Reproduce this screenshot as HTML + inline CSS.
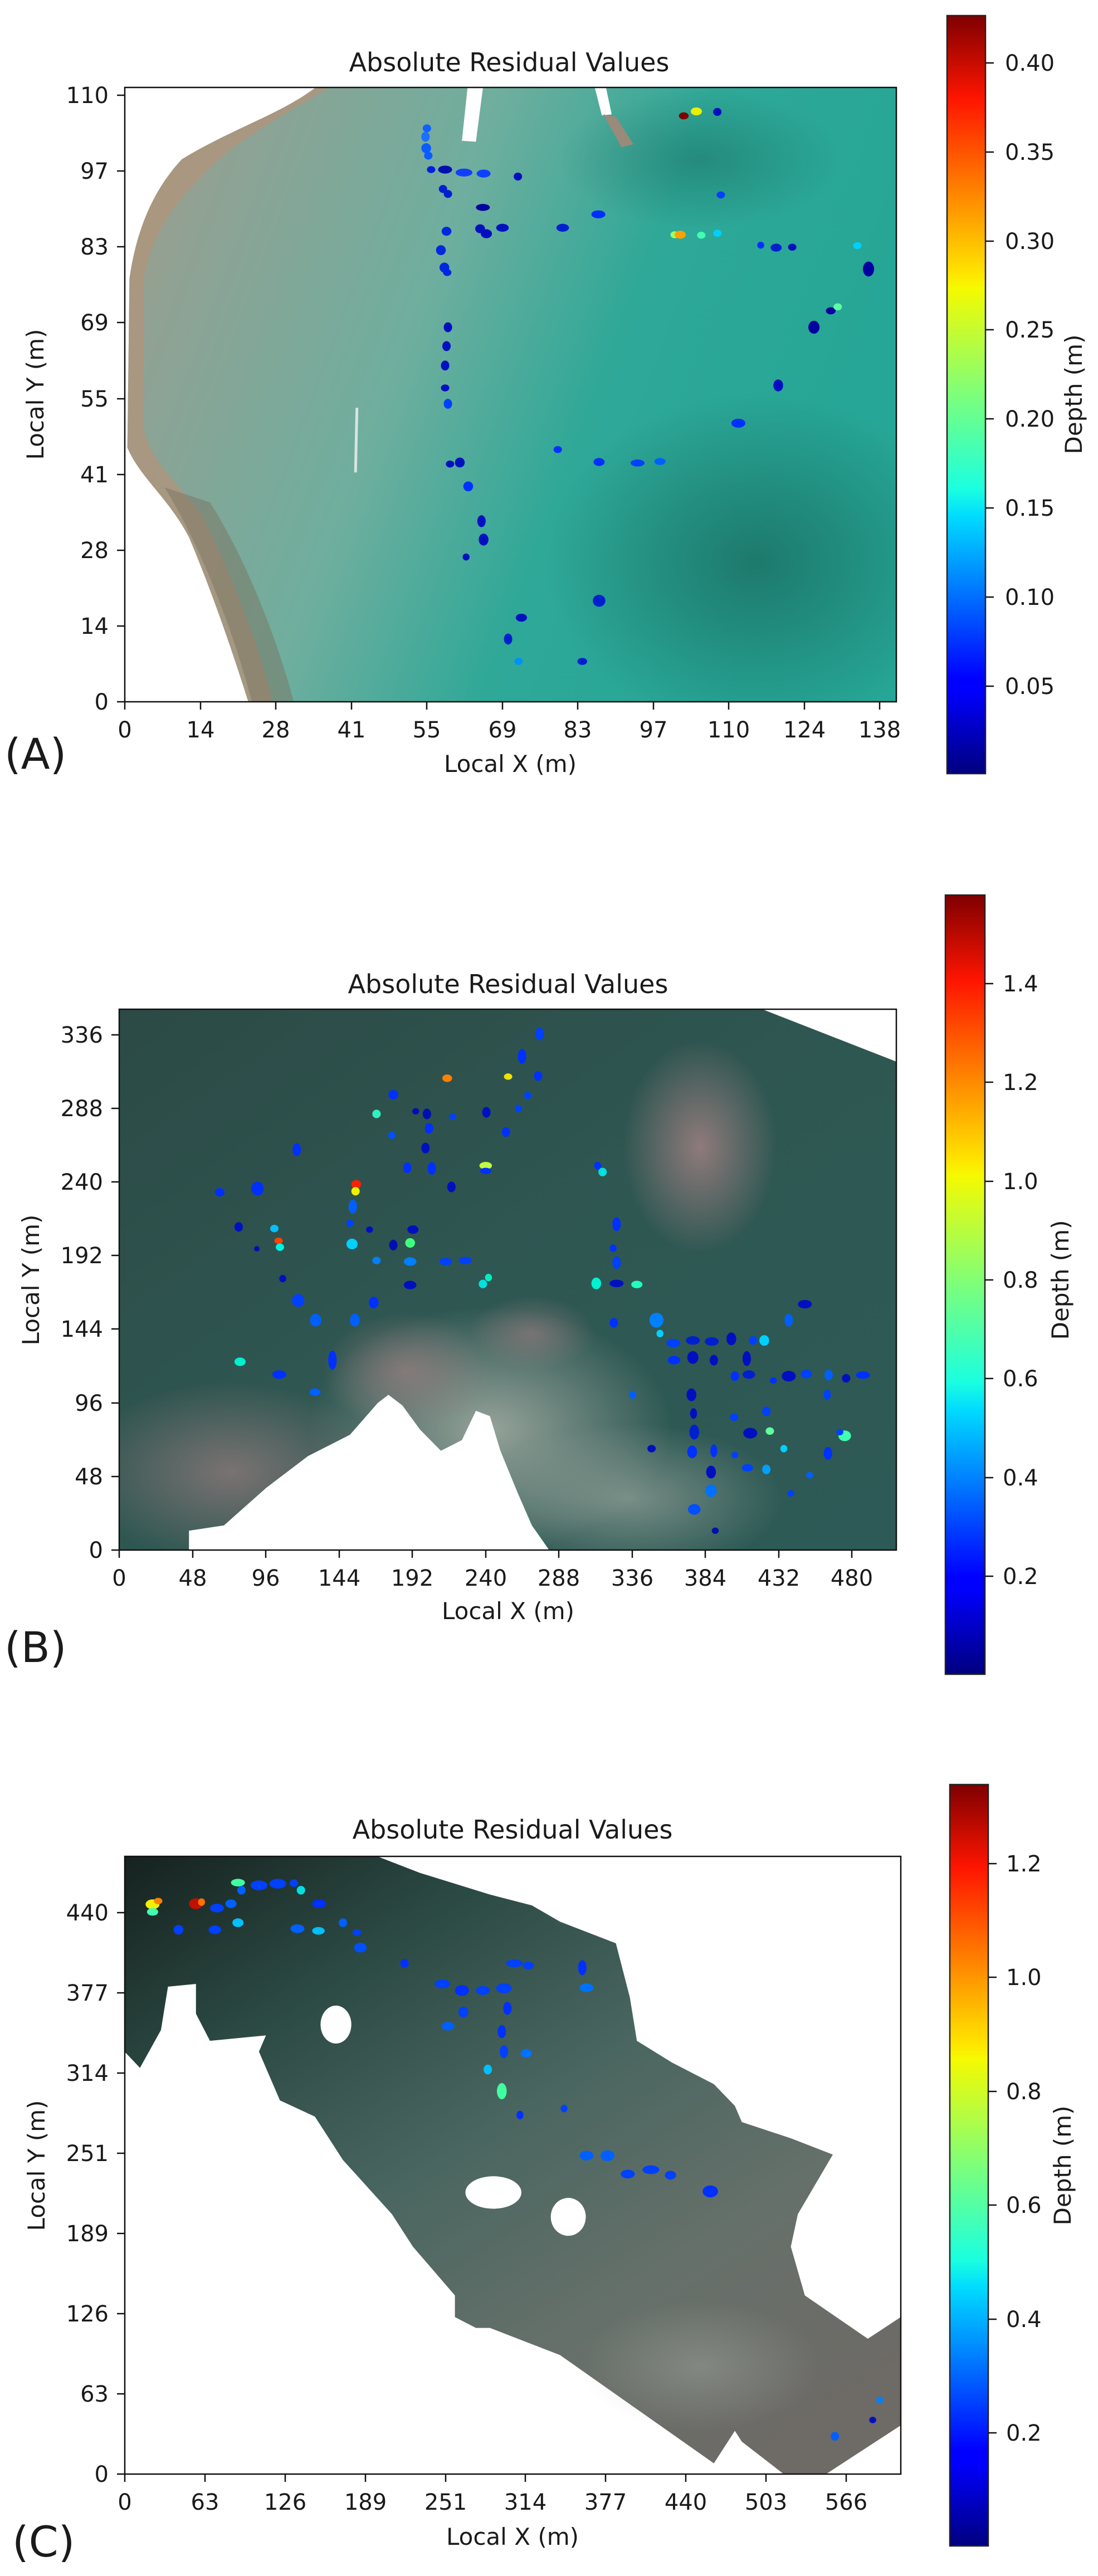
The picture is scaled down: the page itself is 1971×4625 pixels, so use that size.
<!DOCTYPE html>
<html><head><meta charset="utf-8"><style>
html,body{margin:0;padding:0;background:#fff;}
svg{display:block;}
text{font-family:"DejaVu Sans","Liberation Sans",sans-serif;fill:#1a1a1a;}
</style></head><body>
<svg width="1971" height="4625" viewBox="0 0 1971 4625" xmlns="http://www.w3.org/2000/svg">
<defs>
<linearGradient id="jet" x1="0" y1="1" x2="0" y2="0">
<stop offset="0" stop-color="#00007f"/><stop offset="0.11" stop-color="#0000ff"/><stop offset="0.125" stop-color="#0000ff"/>
<stop offset="0.34" stop-color="#00dcff"/><stop offset="0.375" stop-color="#1affe0"/><stop offset="0.5" stop-color="#7dff7a"/>
<stop offset="0.64" stop-color="#f5fa00"/><stop offset="0.66" stop-color="#ffe400"/><stop offset="0.89" stop-color="#ff1500"/>
<stop offset="1" stop-color="#7f0000"/></linearGradient>
<linearGradient id="aw" x1="0" y1="0" x2="1" y2="0.3">
<stop offset="0" stop-color="#a49c88"/><stop offset="0.15" stop-color="#8fa294"/><stop offset="0.45" stop-color="#6fae9e"/><stop offset="0.7" stop-color="#2fa898"/><stop offset="1" stop-color="#26a696"/></linearGradient>
<linearGradient id="bw" x1="0" y1="0" x2="1" y2="1">
<stop offset="0" stop-color="#2c4a46"/><stop offset="0.5" stop-color="#2f5752"/><stop offset="1" stop-color="#2d5a56"/></linearGradient>
<linearGradient id="cw" x1="0" y1="0" x2="0.8" y2="1">
<stop offset="0" stop-color="#16221f"/><stop offset="0.25" stop-color="#2c4a44"/><stop offset="0.5" stop-color="#4a6660"/><stop offset="0.75" stop-color="#66706a"/><stop offset="1" stop-color="#6e6a66"/></linearGradient>
<radialGradient id="bs" cx="0.5" cy="0.5" r="0.5"><stop offset="0" stop-color="#a8b0a6"/><stop offset="1" stop-color="#a8b0a6" stop-opacity="0"/></radialGradient>
<radialGradient id="pk" cx="0.5" cy="0.5" r="0.5"><stop offset="0" stop-color="#9a7e80"/><stop offset="1" stop-color="#9a7e80" stop-opacity="0"/></radialGradient>
<radialGradient id="dk" cx="0.5" cy="0.5" r="0.5"><stop offset="0" stop-color="#1a6e62"/><stop offset="1" stop-color="#1a6e62" stop-opacity="0"/></radialGradient>
<clipPath id="ca"><rect x="178" y="177" width="1102" height="1235"/></clipPath>
<clipPath id="cb"><rect x="170" y="222" width="1111" height="1015"/></clipPath>
<clipPath id="cc"><rect x="178" y="240" width="1109" height="1140"/></clipPath>
</defs>

<!-- ===== PANEL A ===== -->
<g transform="scale(1.2563,0.8929)">
<g clip-path="url(#ca)">
<rect x="178" y="177" width="1102" height="1235" fill="url(#aw)"/>
<ellipse cx="1080" cy="1130" rx="300" ry="340" fill="url(#dk)" opacity="0.8"/>
<ellipse cx="1000" cy="320" rx="200" ry="140" fill="url(#dk)" opacity="0.5"/>
<path d="M178 177 L450 177 C400 230 330 260 260 320 C220 380 195 460 185 560 L182 900 C200 960 240 1000 270 1080 C300 1180 330 1300 355 1412 L178 1412 Z" fill="#fff"/>
<path d="M450 177 C400 230 330 260 260 320 C220 380 195 460 185 560 L182 900 C200 960 240 1000 270 1080 C300 1180 330 1300 355 1412 L390 1412 C370 1300 330 1150 290 1040 C255 970 215 930 205 860 L205 560 C220 440 280 360 330 300 C380 250 430 210 470 177 Z" fill="#ad957e" opacity="0.85"/>
<path d="M235 980 C280 1080 330 1250 360 1412 L420 1412 C395 1280 350 1120 300 1010 Z" fill="#7a7462" opacity="0.5"/>
<polygon points="668,177 690,177 680,285 660,283" fill="#fff"/>
<polygon points="850,177 866,177 874,230 860,232" fill="#fff"/>
<polygon points="862,230 880,235 905,290 888,296" fill="#9a8a7a"/>
<line x1="510" y1="820" x2="508" y2="950" stroke="#d8e4e0" stroke-width="4"/>
</g>
<g>
<ellipse cx="977" cy="233" rx="7" ry="7" fill="#800000"/><ellipse cx="995" cy="224" rx="8" ry="8" fill="#e8f000"/><ellipse cx="1025" cy="225" rx="6" ry="8" fill="#0010c0"/>
<ellipse cx="610" cy="258" rx="6" ry="8" fill="#1060ff"/><ellipse cx="608" cy="275" rx="6" ry="10" fill="#1a70ff"/><ellipse cx="609" cy="298" rx="7" ry="10" fill="#0a5cff"/><ellipse cx="612" cy="313" rx="6" ry="8" fill="#0a5cff"/>
<ellipse cx="616" cy="341" rx="6" ry="7" fill="#0020e0"/><ellipse cx="636" cy="341" rx="10" ry="8" fill="#0010b0"/><ellipse cx="663" cy="347" rx="12" ry="8" fill="#1040ff"/><ellipse cx="691" cy="349" rx="10" ry="8" fill="#1040ff"/><ellipse cx="740" cy="355" rx="6" ry="8" fill="#0010c0"/>
<ellipse cx="633" cy="380" rx="6" ry="8" fill="#0020d0"/><ellipse cx="640" cy="390" rx="6" ry="8" fill="#0020d0"/>
<ellipse cx="690" cy="417" rx="10" ry="7" fill="#0000a0"/>
<ellipse cx="686" cy="460" rx="7" ry="9" fill="#0010c0"/><ellipse cx="695" cy="470" rx="8" ry="9" fill="#0010c0"/><ellipse cx="718" cy="458" rx="9" ry="8" fill="#0010c0"/>
<ellipse cx="638" cy="465" rx="7" ry="9" fill="#0028e0"/><ellipse cx="630" cy="503" rx="7" ry="10" fill="#0028e0"/><ellipse cx="635" cy="538" rx="7" ry="10" fill="#0028e0"/><ellipse cx="639" cy="548" rx="6" ry="7" fill="#0028e0"/>
<ellipse cx="804" cy="458" rx="9" ry="8" fill="#0020d0"/><ellipse cx="855" cy="431" rx="10" ry="8" fill="#0030ff"/><ellipse cx="1030" cy="392" rx="6" ry="7" fill="#0040ff"/>
<ellipse cx="964" cy="472" rx="6" ry="7" fill="#a0ff60"/><ellipse cx="972" cy="472" rx="8" ry="8" fill="#ffa000"/><ellipse cx="1002" cy="473" rx="6" ry="7" fill="#40ffb0"/><ellipse cx="1025" cy="469" rx="6" ry="7" fill="#00d0ff"/>
<ellipse cx="1087" cy="493" rx="5" ry="7" fill="#0030ff"/><ellipse cx="1109" cy="498" rx="8" ry="8" fill="#0020d0"/><ellipse cx="1132" cy="497" rx="6" ry="7" fill="#0010c0"/><ellipse cx="1225" cy="494" rx="6" ry="7" fill="#00d0ff"/><ellipse cx="1241" cy="541" rx="8" ry="15" fill="#0000a0"/>
<ellipse cx="1187" cy="625" rx="7" ry="7" fill="#0000a0"/><ellipse cx="1197" cy="617" rx="6" ry="7" fill="#60ffa0"/><ellipse cx="1163" cy="658" rx="8" ry="13" fill="#0000a0"/>
<ellipse cx="640" cy="658" rx="6" ry="10" fill="#0010c0"/><ellipse cx="638" cy="696" rx="6" ry="10" fill="#0010c0"/><ellipse cx="636" cy="735" rx="6" ry="10" fill="#0010c0"/><ellipse cx="636" cy="780" rx="6" ry="7" fill="#0010c0"/><ellipse cx="640" cy="812" rx="6" ry="10" fill="#0040ff"/>
<ellipse cx="1112" cy="775" rx="7" ry="12" fill="#0010c0"/><ellipse cx="1055" cy="851" rx="10" ry="9" fill="#0030ff"/>
<ellipse cx="797" cy="904" rx="6" ry="7" fill="#0030ff"/><ellipse cx="643" cy="933" rx="6" ry="7" fill="#0010c0"/><ellipse cx="657" cy="930" rx="7" ry="10" fill="#0010c0"/><ellipse cx="856" cy="929" rx="8" ry="8" fill="#0030ff"/><ellipse cx="911" cy="931" rx="10" ry="7" fill="#0040ff"/><ellipse cx="943" cy="928" rx="8" ry="7" fill="#0060ff"/>
<ellipse cx="669" cy="978" rx="7" ry="10" fill="#0030ff"/><ellipse cx="688" cy="1048" rx="6" ry="12" fill="#0010c0"/><ellipse cx="691" cy="1085" rx="7" ry="12" fill="#0010c0"/><ellipse cx="666" cy="1120" rx="5" ry="7" fill="#0010c0"/>
<ellipse cx="856" cy="1208" rx="9" ry="12" fill="#0020d0"/><ellipse cx="745" cy="1242" rx="8" ry="8" fill="#0010c0"/><ellipse cx="726" cy="1285" rx="6" ry="11" fill="#0020d0"/><ellipse cx="741" cy="1330" rx="6" ry="7" fill="#0090ff"/><ellipse cx="832" cy="1330" rx="7" ry="7" fill="#0020d0"/>
</g>
</g>
<rect x="224" y="157" width="1385" height="1103" fill="none" stroke="#111" stroke-width="2.5"/>
<g stroke="#111" stroke-width="2.5">
<line x1="210" y1="1260" x2="224" y2="1260"/><line x1="210" y1="1124" x2="224" y2="1124"/><line x1="210" y1="988" x2="224" y2="988"/><line x1="210" y1="852" x2="224" y2="852"/><line x1="210" y1="716" x2="224" y2="716"/><line x1="210" y1="579" x2="224" y2="579"/><line x1="210" y1="443" x2="224" y2="443"/><line x1="210" y1="307" x2="224" y2="307"/><line x1="210" y1="171" x2="224" y2="171"/>
<line x1="224" y1="1260" x2="224" y2="1274"/><line x1="360" y1="1260" x2="360" y2="1274"/><line x1="495" y1="1260" x2="495" y2="1274"/><line x1="631" y1="1260" x2="631" y2="1274"/><line x1="766" y1="1260" x2="766" y2="1274"/><line x1="902" y1="1260" x2="902" y2="1274"/><line x1="1037" y1="1260" x2="1037" y2="1274"/><line x1="1173" y1="1260" x2="1173" y2="1274"/><line x1="1308" y1="1260" x2="1308" y2="1274"/><line x1="1444" y1="1260" x2="1444" y2="1274"/><line x1="1579" y1="1260" x2="1579" y2="1274"/>
</g>
<g font-size="40" text-anchor="end">
<text x="195" y="1274">0</text><text x="195" y="1138">14</text><text x="195" y="1002">28</text><text x="195" y="866">41</text><text x="195" y="730">55</text><text x="195" y="593">69</text><text x="195" y="457">83</text><text x="195" y="321">97</text><text x="195" y="185">110</text>
</g>
<g font-size="40" text-anchor="middle">
<text x="224" y="1324">0</text><text x="360" y="1324">14</text><text x="495" y="1324">28</text><text x="631" y="1324">41</text><text x="766" y="1324">55</text><text x="902" y="1324">69</text><text x="1037" y="1324">83</text><text x="1173" y="1324">97</text><text x="1308" y="1324">110</text><text x="1444" y="1324">124</text><text x="1579" y="1324">138</text>
</g>
<text x="916" y="1386" font-size="42" text-anchor="middle">Local X (m)</text>
<text transform="translate(78,708) rotate(-90)" font-size="42" text-anchor="middle">Local Y (m)</text>
<text x="914" y="128" font-size="46" text-anchor="middle">Absolute Residual Values</text>
<text x="8" y="1380" font-size="76">(A)</text>
<rect x="1700" y="28" width="69" height="1361" fill="url(#jet)" stroke="#222" stroke-width="2.5"/>
<g stroke="#111" stroke-width="2.5"><line x1="1769" y1="113" x2="1784" y2="113"/><line x1="1769" y1="273" x2="1784" y2="273"/><line x1="1769" y1="433" x2="1784" y2="433"/><line x1="1769" y1="592" x2="1784" y2="592"/><line x1="1769" y1="752" x2="1784" y2="752"/><line x1="1769" y1="912" x2="1784" y2="912"/><line x1="1769" y1="1072" x2="1784" y2="1072"/><line x1="1769" y1="1232" x2="1784" y2="1232"/></g>
<g font-size="40"><text x="1804" y="127">0.40</text><text x="1804" y="287">0.35</text><text x="1804" y="447">0.30</text><text x="1804" y="606">0.25</text><text x="1804" y="766">0.20</text><text x="1804" y="926">0.15</text><text x="1804" y="1086">0.10</text><text x="1804" y="1246">0.05</text></g>
<text transform="translate(1942,708) rotate(-90)" font-size="42" text-anchor="middle">Depth (m)</text>

<!-- ===== PANEL B ===== -->
<g transform="translate(0,1600) scale(1.2563,0.9569)">
<g clip-path="url(#cb)">
<rect x="170" y="222" width="1111" height="1015" fill="url(#bw)"/>
<ellipse cx="1000" cy="480" rx="110" ry="200" fill="url(#pk)" opacity="0.9"/>
<ellipse cx="700" cy="1010" rx="260" ry="230" fill="url(#bs)" opacity="0.85"/>
<ellipse cx="900" cy="1140" rx="220" ry="140" fill="url(#bs)" opacity="0.6"/>
<ellipse cx="330" cy="1090" rx="220" ry="170" fill="url(#pk)" opacity="0.7"/>
<ellipse cx="580" cy="900" rx="120" ry="110" fill="url(#pk)" opacity="0.7"/>
<ellipse cx="760" cy="830" rx="90" ry="70" fill="url(#pk)" opacity="0.6"/>
<polygon points="1090,222 1281,222 1281,320" fill="#fff"/>
<polygon points="270,1237 270,1200 320,1190 380,1120 440,1060 500,1020 540,960 555,945 575,965 600,1010 630,1050 660,1030 680,975 700,985 715,1050 740,1130 760,1190 785,1237" fill="#fff"/>
</g>
<g>
<ellipse cx="771" cy="268" rx="6" ry="12" fill="#0040ff"/><ellipse cx="746" cy="310" rx="6" ry="14" fill="#0030ff"/><ellipse cx="769" cy="347" rx="6" ry="9" fill="#0030ff"/><ellipse cx="639" cy="351" rx="7" ry="7" fill="#ff8000"/><ellipse cx="726" cy="348" rx="6" ry="6" fill="#f0e000"/><ellipse cx="754" cy="383" rx="5" ry="7" fill="#0040ff"/><ellipse cx="562" cy="382" rx="7" ry="9" fill="#0030ff"/><ellipse cx="538" cy="418" rx="6" ry="8" fill="#30f0c0"/><ellipse cx="610" cy="418" rx="6" ry="10" fill="#0010b0"/><ellipse cx="594" cy="413" rx="5" ry="6" fill="#0010b0"/><ellipse cx="647" cy="423" rx="5" ry="6" fill="#0040ff"/><ellipse cx="695" cy="415" rx="6" ry="10" fill="#0010c0"/><ellipse cx="741" cy="408" rx="5" ry="7" fill="#0040ff"/><ellipse cx="613" cy="445" rx="6" ry="10" fill="#0030ff"/><ellipse cx="560" cy="458" rx="5" ry="7" fill="#0050ff"/><ellipse cx="723" cy="452" rx="6" ry="9" fill="#0030ff"/><ellipse cx="608" cy="482" rx="6" ry="10" fill="#0010c0"/><ellipse cx="424" cy="485" rx="6" ry="12" fill="#0030ff"/><ellipse cx="582" cy="519" rx="6" ry="10" fill="#0030ff"/><ellipse cx="617" cy="520" rx="6" ry="12" fill="#0030ff"/><ellipse cx="694" cy="515" rx="9" ry="7" fill="#c0ff40"/><ellipse cx="694" cy="525" rx="8" ry="6" fill="#0030ff"/><ellipse cx="645" cy="555" rx="6" ry="10" fill="#0010c0"/><ellipse cx="509" cy="550" rx="7" ry="8" fill="#ff2000"/><ellipse cx="508" cy="563" rx="6" ry="8" fill="#f0f000"/><ellipse cx="314" cy="565" rx="7" ry="8" fill="#0030ff"/><ellipse cx="368" cy="558" rx="9" ry="13" fill="#0030ff"/><ellipse cx="504" cy="592" rx="6" ry="13" fill="#0060ff"/><ellipse cx="500" cy="623" rx="5" ry="7" fill="#0040ff"/><ellipse cx="528" cy="635" rx="5" ry="6" fill="#0010c0"/><ellipse cx="341" cy="630" rx="6" ry="9" fill="#0010c0"/><ellipse cx="392" cy="633" rx="6" ry="7" fill="#00c0ff"/><ellipse cx="398" cy="656" rx="6" ry="6" fill="#ff4000"/><ellipse cx="400" cy="668" rx="6" ry="7" fill="#00f0e0"/><ellipse cx="367" cy="671" rx="4" ry="5" fill="#0010b0"/><ellipse cx="503" cy="662" rx="8" ry="10" fill="#00d0ff"/><ellipse cx="562" cy="664" rx="6" ry="10" fill="#0010b0"/><ellipse cx="586" cy="660" rx="7" ry="9" fill="#40ff80"/><ellipse cx="590" cy="635" rx="8" ry="8" fill="#0010c0"/><ellipse cx="538" cy="693" rx="6" ry="7" fill="#0080ff"/><ellipse cx="586" cy="695" rx="9" ry="8" fill="#0080ff"/><ellipse cx="637" cy="695" rx="9" ry="7" fill="#0040ff"/><ellipse cx="665" cy="693" rx="9" ry="7" fill="#0040ff"/><ellipse cx="404" cy="727" rx="5" ry="7" fill="#0010c0"/><ellipse cx="586" cy="739" rx="9" ry="8" fill="#0010c0"/><ellipse cx="690" cy="737" rx="6" ry="8" fill="#00e0e0"/><ellipse cx="698" cy="725" rx="5" ry="7" fill="#00f0c0"/><ellipse cx="854" cy="515" rx="5" ry="7" fill="#0030ff"/><ellipse cx="861" cy="527" rx="6" ry="8" fill="#00e0e0"/><ellipse cx="881" cy="625" rx="6" ry="13" fill="#0030ff"/><ellipse cx="876" cy="670" rx="5" ry="7" fill="#0030ff"/><ellipse cx="881" cy="697" rx="6" ry="12" fill="#0040ff"/><ellipse cx="881" cy="736" rx="10" ry="7" fill="#0010c0"/><ellipse cx="910" cy="738" rx="8" ry="7" fill="#20ffc0"/><ellipse cx="852" cy="736" rx="7" ry="11" fill="#00f0d0"/><ellipse cx="877" cy="810" rx="6" ry="9" fill="#0030ff"/><ellipse cx="426" cy="768" rx="9" ry="12" fill="#0040ff"/><ellipse cx="534" cy="772" rx="7" ry="11" fill="#0030ff"/><ellipse cx="451" cy="805" rx="8" ry="12" fill="#0060ff"/><ellipse cx="507" cy="805" rx="7" ry="12" fill="#0060ff"/><ellipse cx="938" cy="805" rx="10" ry="14" fill="#0080ff"/><ellipse cx="943" cy="830" rx="5" ry="7" fill="#00d0ff"/><ellipse cx="343" cy="883" rx="8" ry="8" fill="#00f0d0"/><ellipse cx="475" cy="880" rx="6" ry="18" fill="#0030ff"/><ellipse cx="399" cy="907" rx="10" ry="8" fill="#0030ff"/><ellipse cx="450" cy="940" rx="8" ry="7" fill="#0060ff"/><ellipse cx="962" cy="848" rx="10" ry="8" fill="#0040ff"/><ellipse cx="990" cy="843" rx="10" ry="8" fill="#0020d0"/><ellipse cx="1017" cy="845" rx="10" ry="8" fill="#0020d0"/><ellipse cx="1045" cy="840" rx="7" ry="12" fill="#0010c0"/><ellipse cx="1092" cy="843" rx="7" ry="10" fill="#00d0ff"/><ellipse cx="1076" cy="843" rx="6" ry="8" fill="#0040ff"/><ellipse cx="963" cy="880" rx="9" ry="8" fill="#0030ff"/><ellipse cx="990" cy="875" rx="8" ry="12" fill="#0010c0"/><ellipse cx="1020" cy="880" rx="6" ry="10" fill="#0010c0"/><ellipse cx="1067" cy="877" rx="6" ry="14" fill="#0010c0"/><ellipse cx="1050" cy="910" rx="6" ry="9" fill="#0030ff"/><ellipse cx="1070" cy="907" rx="9" ry="8" fill="#0020d0"/><ellipse cx="1105" cy="918" rx="5" ry="6" fill="#0030ff"/><ellipse cx="1127" cy="910" rx="10" ry="10" fill="#0010c0"/><ellipse cx="1152" cy="906" rx="8" ry="8" fill="#0040ff"/><ellipse cx="1184" cy="908" rx="6" ry="10" fill="#0060ff"/><ellipse cx="1209" cy="914" rx="6" ry="8" fill="#0010c0"/><ellipse cx="1233" cy="908" rx="10" ry="7" fill="#0030ff"/><ellipse cx="1150" cy="775" rx="10" ry="8" fill="#0010c0"/><ellipse cx="1127" cy="805" rx="6" ry="12" fill="#0060ff"/><ellipse cx="1182" cy="945" rx="5" ry="10" fill="#0040ff"/><ellipse cx="904" cy="945" rx="5" ry="8" fill="#0060ff"/><ellipse cx="988" cy="945" rx="7" ry="12" fill="#0010c0"/><ellipse cx="991" cy="980" rx="5" ry="10" fill="#0010c0"/><ellipse cx="992" cy="1015" rx="7" ry="14" fill="#0020d0"/><ellipse cx="989" cy="1052" rx="7" ry="12" fill="#0030ff"/><ellipse cx="1020" cy="1050" rx="5" ry="12" fill="#0030ff"/><ellipse cx="1049" cy="987" rx="6" ry="7" fill="#0040ff"/><ellipse cx="1072" cy="1017" rx="10" ry="10" fill="#0010c0"/><ellipse cx="1095" cy="976" rx="6" ry="9" fill="#0040ff"/><ellipse cx="1100" cy="1013" rx="6" ry="7" fill="#60ffa0"/><ellipse cx="1120" cy="1046" rx="5" ry="7" fill="#00d0ff"/><ellipse cx="1050" cy="1058" rx="5" ry="6" fill="#0040ff"/><ellipse cx="1068" cy="1082" rx="8" ry="7" fill="#0040ff"/><ellipse cx="1095" cy="1085" rx="6" ry="9" fill="#00a0ff"/><ellipse cx="1016" cy="1090" rx="7" ry="12" fill="#0010c0"/><ellipse cx="1016" cy="1125" rx="8" ry="12" fill="#0070ff"/><ellipse cx="992" cy="1160" rx="9" ry="10" fill="#0050ff"/><ellipse cx="1022" cy="1200" rx="5" ry="6" fill="#0010b0"/><ellipse cx="1130" cy="1130" rx="5" ry="6" fill="#0040ff"/><ellipse cx="1157" cy="1096" rx="5" ry="6" fill="#0060ff"/><ellipse cx="1183" cy="1055" rx="6" ry="12" fill="#0030ff"/><ellipse cx="1207" cy="1022" rx="9" ry="10" fill="#40ffb0"/><ellipse cx="1200" cy="1015" rx="5" ry="6" fill="#0040ff"/><ellipse cx="931" cy="1046" rx="6" ry="7" fill="#0010c0"/>
</g>
</g>
<rect x="214" y="1812" width="1395" height="971" fill="none" stroke="#111" stroke-width="2.5"/>
<g stroke="#111" stroke-width="2.5">
<line x1="200" y1="2783" x2="214" y2="2783"/><line x1="200" y1="2651" x2="214" y2="2651"/><line x1="200" y1="2519" x2="214" y2="2519"/><line x1="200" y1="2386" x2="214" y2="2386"/><line x1="200" y1="2254" x2="214" y2="2254"/><line x1="200" y1="2122" x2="214" y2="2122"/><line x1="200" y1="1990" x2="214" y2="1990"/><line x1="200" y1="1858" x2="214" y2="1858"/>
<line x1="214" y1="2783" x2="214" y2="2797"/><line x1="346" y1="2783" x2="346" y2="2797"/><line x1="477" y1="2783" x2="477" y2="2797"/><line x1="609" y1="2783" x2="609" y2="2797"/><line x1="740" y1="2783" x2="740" y2="2797"/><line x1="872" y1="2783" x2="872" y2="2797"/><line x1="1003" y1="2783" x2="1003" y2="2797"/><line x1="1135" y1="2783" x2="1135" y2="2797"/><line x1="1266" y1="2783" x2="1266" y2="2797"/><line x1="1398" y1="2783" x2="1398" y2="2797"/><line x1="1529" y1="2783" x2="1529" y2="2797"/>
</g>
<g font-size="40" text-anchor="end">
<text x="185" y="2797">0</text><text x="185" y="2665">48</text><text x="185" y="2533">96</text><text x="185" y="2400">144</text><text x="185" y="2268">192</text><text x="185" y="2136">240</text><text x="185" y="2004">288</text><text x="185" y="1872">336</text>
</g>
<g font-size="40" text-anchor="middle">
<text x="214" y="2847">0</text><text x="346" y="2847">48</text><text x="477" y="2847">96</text><text x="609" y="2847">144</text><text x="740" y="2847">192</text><text x="872" y="2847">240</text><text x="1003" y="2847">288</text><text x="1135" y="2847">336</text><text x="1266" y="2847">384</text><text x="1398" y="2847">432</text><text x="1529" y="2847">480</text>
</g>
<text x="912" y="2907" font-size="42" text-anchor="middle">Local X (m)</text>
<text transform="translate(70,2298) rotate(-90)" font-size="42" text-anchor="middle">Local Y (m)</text>
<text x="912" y="1783" font-size="46" text-anchor="middle">Absolute Residual Values</text>
<text x="8" y="2984" font-size="76">(B)</text>
<rect x="1697" y="1607" width="71" height="1399" fill="url(#jet)" stroke="#222" stroke-width="2.5"/>
<g stroke="#111" stroke-width="2.5"><line x1="1768" y1="1766" x2="1783" y2="1766"/><line x1="1768" y1="1943" x2="1783" y2="1943"/><line x1="1768" y1="2121" x2="1783" y2="2121"/><line x1="1768" y1="2298" x2="1783" y2="2298"/><line x1="1768" y1="2475" x2="1783" y2="2475"/><line x1="1768" y1="2653" x2="1783" y2="2653"/><line x1="1768" y1="2830" x2="1783" y2="2830"/></g>
<g font-size="40"><text x="1800" y="1780">1.4</text><text x="1800" y="1957">1.2</text><text x="1800" y="2135">1.0</text><text x="1800" y="2312">0.8</text><text x="1800" y="2489">0.6</text><text x="1800" y="2667">0.4</text><text x="1800" y="2844">0.2</text></g>
<text transform="translate(1918,2298) rotate(-90)" font-size="42" text-anchor="middle">Depth (m)</text>

<!-- ===== PANEL C ===== -->
<g transform="translate(0,3100) scale(1.2563,0.9726)">
<g clip-path="url(#cc)">
<polygon points="178,240 540,240 600,270 700,310 760,330 800,360 880,400 900,500 910,580 960,620 1020,660 1050,700 1060,730 1130,760 1190,790 1140,900 1130,960 1150,1050 1240,1130 1287,1090 1287,1290 1180,1380 1120,1380 1060,1320 1050,1300 1020,1360 800,1160 700,1110 680,1110 650,1090 650,1050 590,960 560,900 490,800 450,720 400,690 370,600 380,570 300,580 280,530 280,475 240,480 230,560 200,630 178,600" fill="url(#cw)"/>
<ellipse cx="480" cy="550" rx="22" ry="35" fill="#fff"/>
<ellipse cx="705" cy="860" rx="40" ry="30" fill="#fff"/>
<ellipse cx="812" cy="905" rx="25" ry="35" fill="#fff"/>
<ellipse cx="1000" cy="1180" rx="170" ry="120" fill="url(#bs)" opacity="0.4"/>
</g>
<g>
<ellipse cx="218" cy="328" rx="10" ry="9" fill="#f0f000"/><ellipse cx="226" cy="322" rx="6" ry="6" fill="#ff8000"/><ellipse cx="218" cy="342" rx="8" ry="7" fill="#40ffb0"/><ellipse cx="280" cy="327" rx="10" ry="10" fill="#c01000"/><ellipse cx="288" cy="324" rx="5" ry="7" fill="#ff7000"/><ellipse cx="310" cy="335" rx="10" ry="8" fill="#0040ff"/><ellipse cx="330" cy="327" rx="8" ry="8" fill="#0060ff"/><ellipse cx="340" cy="288" rx="10" ry="7" fill="#40ffa0"/><ellipse cx="345" cy="302" rx="6" ry="8" fill="#0060ff"/><ellipse cx="370" cy="293" rx="12" ry="9" fill="#0040ff"/><ellipse cx="397" cy="290" rx="12" ry="9" fill="#0040ff"/><ellipse cx="420" cy="289" rx="6" ry="7" fill="#0040ff"/><ellipse cx="430" cy="302" rx="6" ry="8" fill="#00e0e0"/><ellipse cx="255" cy="375" rx="7" ry="9" fill="#0040ff"/><ellipse cx="307" cy="375" rx="9" ry="8" fill="#0040ff"/><ellipse cx="340" cy="362" rx="8" ry="8" fill="#00c0ff"/><ellipse cx="425" cy="373" rx="10" ry="8" fill="#0060ff"/><ellipse cx="455" cy="377" rx="9" ry="7" fill="#00c0ff"/><ellipse cx="456" cy="327" rx="10" ry="8" fill="#0030ff"/><ellipse cx="490" cy="362" rx="6" ry="8" fill="#0060ff"/><ellipse cx="510" cy="380" rx="6" ry="6" fill="#0040ff"/><ellipse cx="515" cy="408" rx="9" ry="9" fill="#0050ff"/><ellipse cx="578" cy="437" rx="6" ry="8" fill="#0030ff"/><ellipse cx="735" cy="437" rx="12" ry="7" fill="#0040ff"/><ellipse cx="755" cy="441" rx="8" ry="7" fill="#0040ff"/><ellipse cx="832" cy="445" rx="6" ry="14" fill="#0030ff"/><ellipse cx="838" cy="482" rx="10" ry="8" fill="#0070ff"/><ellipse cx="632" cy="475" rx="11" ry="8" fill="#0040ff"/><ellipse cx="660" cy="487" rx="10" ry="10" fill="#0030ff"/><ellipse cx="690" cy="487" rx="10" ry="8" fill="#0040ff"/><ellipse cx="720" cy="483" rx="11" ry="9" fill="#0040ff"/><ellipse cx="725" cy="520" rx="6" ry="12" fill="#0030ff"/><ellipse cx="662" cy="527" rx="7" ry="10" fill="#0040ff"/><ellipse cx="640" cy="553" rx="9" ry="8" fill="#0060ff"/><ellipse cx="717" cy="563" rx="6" ry="12" fill="#0030ff"/><ellipse cx="720" cy="600" rx="6" ry="12" fill="#0040ff"/><ellipse cx="752" cy="603" rx="8" ry="8" fill="#0070ff"/><ellipse cx="697" cy="633" rx="6" ry="9" fill="#00c0ff"/><ellipse cx="717" cy="673" rx="7" ry="15" fill="#40ffa0"/><ellipse cx="743" cy="717" rx="5" ry="8" fill="#0030ff"/><ellipse cx="806" cy="705" rx="5" ry="7" fill="#0040ff"/><ellipse cx="838" cy="792" rx="10" ry="9" fill="#0060ff"/><ellipse cx="868" cy="792" rx="10" ry="10" fill="#0060ff"/><ellipse cx="897" cy="826" rx="10" ry="8" fill="#0040ff"/><ellipse cx="930" cy="818" rx="12" ry="8" fill="#0040ff"/><ellipse cx="958" cy="828" rx="8" ry="8" fill="#0040ff"/><ellipse cx="1015" cy="858" rx="11" ry="11" fill="#0030ff"/><ellipse cx="1193" cy="1310" rx="6" ry="8" fill="#0060ff"/><ellipse cx="1247" cy="1280" rx="5" ry="6" fill="#0010c0"/><ellipse cx="1257" cy="1243" rx="5" ry="6" fill="#0080ff"/>
</g>
</g>
<rect x="224" y="3333" width="1393" height="1109" fill="none" stroke="#111" stroke-width="2.5"/>
<g stroke="#111" stroke-width="2.5">
<line x1="210" y1="4442" x2="224" y2="4442"/><line x1="210" y1="4298" x2="224" y2="4298"/><line x1="210" y1="4154" x2="224" y2="4154"/><line x1="210" y1="4010" x2="224" y2="4010"/><line x1="210" y1="3866" x2="224" y2="3866"/><line x1="210" y1="3722" x2="224" y2="3722"/><line x1="210" y1="3578" x2="224" y2="3578"/><line x1="210" y1="3434" x2="224" y2="3434"/>
<line x1="224" y1="4442" x2="224" y2="4456"/><line x1="368" y1="4442" x2="368" y2="4456"/><line x1="512" y1="4442" x2="512" y2="4456"/><line x1="656" y1="4442" x2="656" y2="4456"/><line x1="800" y1="4442" x2="800" y2="4456"/><line x1="943" y1="4442" x2="943" y2="4456"/><line x1="1087" y1="4442" x2="1087" y2="4456"/><line x1="1231" y1="4442" x2="1231" y2="4456"/><line x1="1375" y1="4442" x2="1375" y2="4456"/><line x1="1519" y1="4442" x2="1519" y2="4456"/>
</g>
<g font-size="40" text-anchor="end">
<text x="195" y="4456">0</text><text x="195" y="4312">63</text><text x="195" y="4168">126</text><text x="195" y="4024">189</text><text x="195" y="3880">251</text><text x="195" y="3736">314</text><text x="195" y="3592">377</text><text x="195" y="3448">440</text>
</g>
<g font-size="40" text-anchor="middle">
<text x="224" y="4506">0</text><text x="368" y="4506">63</text><text x="512" y="4506">126</text><text x="656" y="4506">189</text><text x="800" y="4506">251</text><text x="943" y="4506">314</text><text x="1087" y="4506">377</text><text x="1231" y="4506">440</text><text x="1375" y="4506">503</text><text x="1519" y="4506">566</text>
</g>
<text x="920" y="4569" font-size="42" text-anchor="middle">Local X (m)</text>
<text transform="translate(80,3888) rotate(-90)" font-size="42" text-anchor="middle">Local Y (m)</text>
<text x="920" y="3301" font-size="46" text-anchor="middle">Absolute Residual Values</text>
<text x="22" y="4590" font-size="76">(C)</text>
<rect x="1705" y="3204" width="69" height="1367" fill="url(#jet)" stroke="#222" stroke-width="2.5"/>
<g stroke="#111" stroke-width="2.5"><line x1="1774" y1="3346" x2="1789" y2="3346"/><line x1="1774" y1="3550" x2="1789" y2="3550"/><line x1="1774" y1="3755" x2="1789" y2="3755"/><line x1="1774" y1="3959" x2="1789" y2="3959"/><line x1="1774" y1="4164" x2="1789" y2="4164"/><line x1="1774" y1="4368" x2="1789" y2="4368"/></g>
<g font-size="40"><text x="1806" y="3360">1.2</text><text x="1806" y="3564">1.0</text><text x="1806" y="3769">0.8</text><text x="1806" y="3973">0.6</text><text x="1806" y="4178">0.4</text><text x="1806" y="4382">0.2</text></g>
<text transform="translate(1922,3888) rotate(-90)" font-size="42" text-anchor="middle">Depth (m)</text>
</svg>
</body></html>
